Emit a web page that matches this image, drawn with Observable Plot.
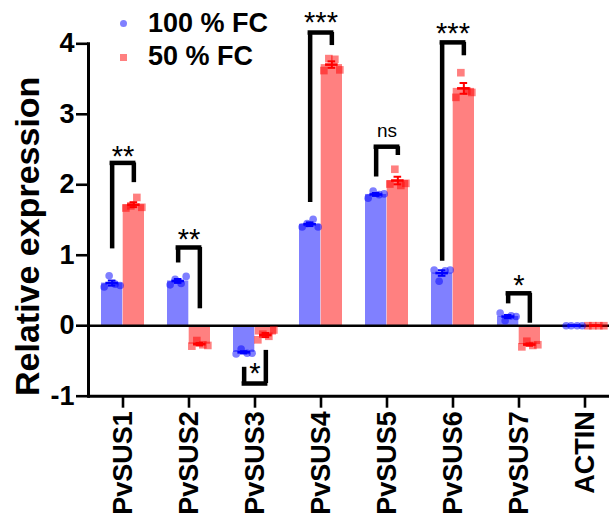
<!DOCTYPE html>
<html>
<head>
<meta charset="utf-8">
<script src="https://cdn.jsdelivr.net/npm/d3@7"></script>
<script src="https://cdn.jsdelivr.net/npm/@observablehq/plot@0.6"></script>
<style>
html, body { margin: 0; padding: 0; background: #fff; overflow: hidden; }
#wrap { position: relative; width: 609px; height: 514px; overflow: hidden; font-family: "Liberation Sans", Arial, sans-serif; }
#wrap svg { position: absolute; left: 0; top: 0; }
.lg { position: absolute; font-size: 27px; font-weight: bold; line-height: 27px; white-space: nowrap; color: #000; }
.mk { position: absolute; width: 7.4px; height: 7.4px; }
</style>
</head>
<body>
<div id="wrap">
  <div class="mk" style="left:119.5px; top:19.5px; border-radius:50%; background:#8080ff;"></div>
  <div class="lg" style="left:148px; top:10px;">100 % FC</div>
  <div class="mk" style="left:119.5px; top:53.5px; background:#ff8080;"></div>
  <div class="lg" style="left:148px; top:43px;">50 % FC</div>
</div>
<script>
// ---- data ----
const categories = ["PvSUS1", "PvSUS2", "PvSUS3", "PvSUS4", "PvSUS5", "PvSUS6", "PvSUS7", "ACTIN"];
const groups = ["100 % FC", "50 % FC"];
// replicate values (4 per gene), 100 % FC
const fc100 = [
  [0.55, 0.71, 0.59, 0.57],
  [0.58, 0.66, 0.60, 0.70],
  [-0.40, -0.33, -0.39, -0.39],
  [1.40, 1.45, 1.51, 1.40],
  [1.81, 1.91, 1.86, 1.87],
  [0.79, 0.63, 0.78, 0.79],
  [0.18, 0.07, 0.14, 0.13],
  [0, 0, 0, 0]
];
// replicate values (4 per gene), 50 % FC
const fc50 = [
  [1.67, 1.70, 1.82, 1.68],
  [-0.29, -0.21, -0.27, -0.28],
  [-0.20, -0.12, -0.15, -0.06],
  [3.62, 3.79, 3.78, 3.63],
  [2.01, 2.22, 1.99, 2.02],
  [3.24, 3.59, 3.33, 3.31],
  [-0.30, -0.22, -0.28, -0.27],
  [0, 0, 0, 0]
];
const yTicks = [-1, 0, 1, 2, 3, 4];
// significance brackets
const sigCats = ["PvSUS1", "PvSUS2", "PvSUS3", "PvSUS4", "PvSUS5", "PvSUS6", "PvSUS7"];
const sigLeftEnd = [1.09, 0.89, -0.59, 1.75, 2.11, 0.915, 0.31];
const sigTop = [2.31, 1.11, -0.82, 4.16, 2.54, 4.02, 0.46];
const sigRightEnd = [2.03, 0.24, -0.35, 3.975, 2.415, 3.83, 0.035];
const sigLabels = ["**", "**", "*", "***", "ns", "***", "*"];
const sigLabelY = [2.45, 1.27, -0.62, 4.35, 2.745, 4.2, 0.62];

// ---- derived tables ----
function stats(arr) {
  return categories.map((c, i) => {
    const v = arr[i];
    const m = d3.mean(v);
    const sd = d3.deviation(v) || 0;
    return {cat: c, mean: m, lo: m - sd / Math.sqrt(v.length), hi: m + sd / Math.sqrt(v.length)};
  });
}
function reps(arr) {
  return categories.flatMap((c, i) => arr[i].map((v, k) => ({cat: c, value: v, rep: k})));
}
const s100 = stats(fc100), s50 = stats(fc50);
const r100 = reps(fc100), r50 = reps(fc50);
const brackets = sigCats.map((c, i) => ({cat: c, left: sigLeftEnd[i], top: sigTop[i], right: sigRightEnd[i], label: sigLabels[i], ly: sigLabelY[i]}));

// ---- layout constants (styles) ----
const X0 = 89, X1 = 619, PI = 0.345;
const step = (X1 - X0) / categories.length;
const bw = step * (1 - PI);
const half = bw / 4;          // offset of each bar centre from band centre
const jitter = [-8, -3, 3, 8];
const BLUE = "#0000ff", RED = "#ff0000";

const marks = [
  Plot.barY(s100, {x: "cat", y: "mean", fill: "#8080ff", insetRight: bw / 2}),
  Plot.barY(s50, {x: "cat", y: "mean", fill: "#ff8080", insetLeft: bw / 2}),
  Plot.ruleY([0], {stroke: "#000", strokeWidth: 2.6}),
];
jitter.forEach((j, k) => {
  marks.push(Plot.dot(r100.filter(d => d.rep === k), {x: "cat", y: "value", dx: -half + j, r: 3.8, fill: BLUE, fillOpacity: 0.5, stroke: "none"}));
  marks.push(Plot.dot(r50.filter(d => d.rep === k), {x: "cat", y: "value", dx: half + j, r: 4.3, symbol: "square", fill: RED, fillOpacity: 0.5, stroke: "none"}));
});
[[s100, -half, BLUE], [s50, half, RED]].forEach(([s, off, col]) => {
  marks.push(Plot.ruleX(s, {x: "cat", y1: "lo", y2: "hi", dx: off, stroke: col, strokeWidth: 2}));
  marks.push(Plot.tickY(s, {x: "cat", y: "lo", dx: off, insetLeft: (bw - 8) / 2, insetRight: (bw - 8) / 2, stroke: col, strokeWidth: 2}));
  marks.push(Plot.tickY(s, {x: "cat", y: "hi", dx: off, insetLeft: (bw - 8) / 2, insetRight: (bw - 8) / 2, stroke: col, strokeWidth: 2}));
  marks.push(Plot.tickY(s, {x: "cat", y: "mean", dx: off, insetLeft: (bw - 13) / 2, insetRight: (bw - 13) / 2, stroke: col, strokeWidth: 2.6}));
});
marks.push(
  Plot.ruleX(brackets, {x: "cat", y1: "left", y2: "top", dx: -half, stroke: "#000", strokeWidth: 4.5}),
  Plot.ruleX(brackets, {x: "cat", y1: "right", y2: "top", dx: half, stroke: "#000", strokeWidth: 4.5}),
  Plot.tickY(brackets, {x: "cat", y: "top", insetLeft: bw / 2 - half, insetRight: bw / 2 - half, stroke: "#000", strokeWidth: 4.5, strokeLinecap: "square"}),
  Plot.text(brackets.filter(d => d.label !== "ns"), {x: "cat", y: "ly", text: "label", fontSize: 29, dy: 4, fill: "#000"}),
  Plot.text(brackets.filter(d => d.label === "ns"), {x: "cat", y: "ly", text: "label", fontSize: 19, dy: -1, fill: "#000"}),
  Plot.axisY({ticks: yTicks, tickFormat: d => String(d), tickSize: 12, tickPadding: 2, fontSize: 27, fontWeight: "bold", strokeWidth: 2.6, label: null}),
  Plot.axisX({tickRotate: -90, tickSize: 12, tickPadding: 3, fontSize: 27, fontWeight: "bold", strokeWidth: 2.6, label: null}),
  Plot.frame({anchor: "left", strokeWidth: 3}),
  Plot.ruleY([-1], {stroke: "#000", strokeWidth: 3}),
  Plot.text(["Relative expression"], {frameAnchor: "left", textAnchor: "middle", rotate: -90, dx: -60.4, dy: 16.3, fontSize: 34, fontWeight: "bold", fill: "#000"})
);

const chart = Plot.plot({
  width: 609,
  height: 514,
  marginTop: 43.3,
  marginBottom: 118.3,
  marginLeft: 88,
  marginRight: 0,
  style: {fontFamily: "'Liberation Sans', Arial, sans-serif", background: "white", overflow: "hidden", color: "#000"},
  x: {domain: categories, range: [X0, X1], paddingInner: PI, paddingOuter: PI / 2},
  y: {domain: [-1, 4]},
  marks
});
const wrap = document.getElementById("wrap");
wrap.insertBefore(chart, wrap.firstChild);
</script>
</body>
</html>
